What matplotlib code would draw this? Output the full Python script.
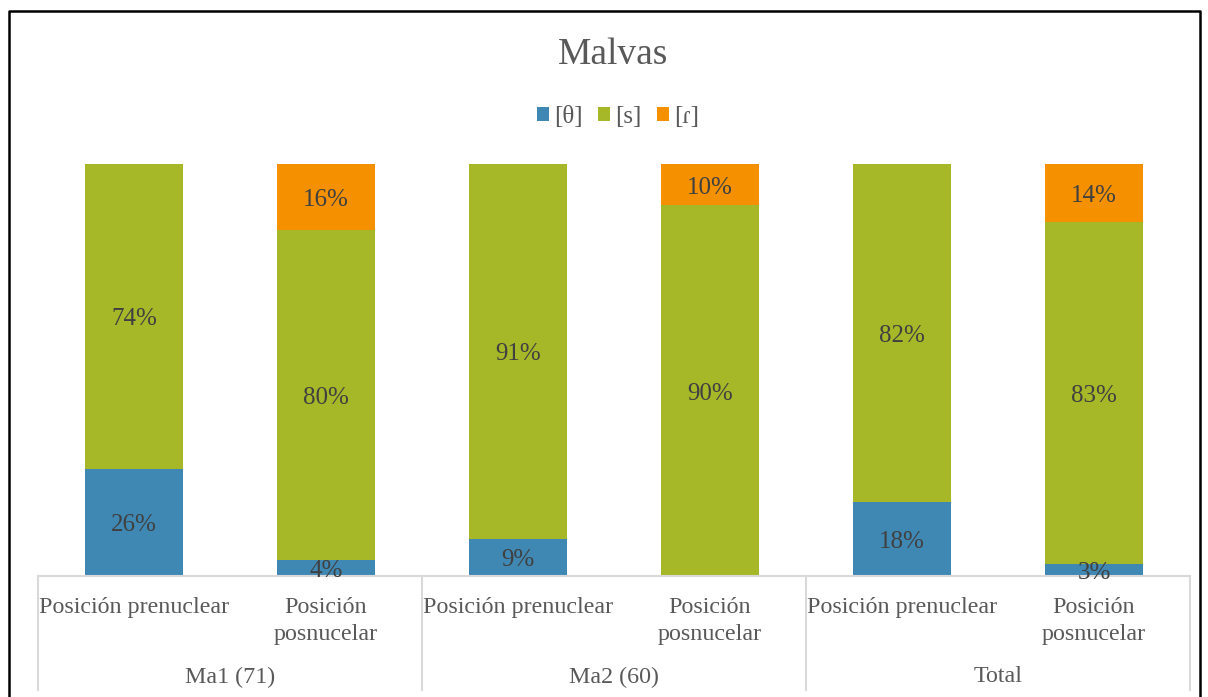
import numpy as np
import matplotlib.pyplot as plt
from matplotlib.lines import Line2D
import matplotlib.transforms as mtransforms

plt.rcParams["font.family"] = ["Liberation Serif", "DejaVu Serif"]

# Data (percent)
groups = ["Ma1 (71)", "Ma2 (60)", "Total"]
positions = ["Posición prenuclear", "Posición\nposnucelar"]
series_names = ["[θ]", "[s]", "[ɾ]"]
theta = [26, 4, 9, 0, 18, 3]
s_vals = [74, 80, 91, 90, 82, 83]
tap = [0, 16, 0, 10, 0, 14]

colors = ["#3F88B4", "#A6B828", "#F59100"]
text_col = "#595959"
label_col = "#404040"
grid_col = "#D9D9D9"

fig = plt.figure(figsize=(12.08, 6.97), dpi=100)
ax = fig.add_axes([38 / 1208, 1 - 576 / 697, (1190 - 38) / 1208, (576 - 164) / 697])

x = np.arange(len(theta))
width = 0.51
bottom = np.zeros(len(theta))
for vals, name, col in zip([theta, s_vals, tap], series_names, colors):
    vals = np.array(vals, dtype=float)
    ax.bar(x, vals, width, bottom=bottom, color=col, label=name, zorder=2)
    for xi, v, b in zip(x, vals, bottom):
        if v > 0:
            ax.annotate(f"{int(v)}%", (xi, b + v / 2), xytext=(0, -3),
                        textcoords="offset pixels", ha="center", va="center",
                        fontsize=18, color=label_col, zorder=3,
                        annotation_clip=False)
    bottom += vals

ax.set_xlim(-0.5, len(theta) - 0.5)
ax.set_ylim(0, 100)
ax.set_xticks([])
ax.set_yticks([])
for side in ["top", "left", "right"]:
    ax.spines[side].set_visible(False)
ax.spines["bottom"].set_color(grid_col)
ax.spines["bottom"].set_linewidth(1.5)

# Multi-level category axis
trans = mtransforms.blended_transform_factory(ax.transData, fig.transFigure)
for i, xi in enumerate(x):
    ax.text(xi, 1 - 597 / 697, positions[i % 2], ha="center", va="top",
            fontsize=17.3, color=text_col, transform=trans, linespacing=1.38)
for g, name in enumerate(groups):
    ax.text(2 * g + 0.5, 1 - 677 / 697, name, ha="center", va="center",
            fontsize=17.3, color=text_col, transform=trans)
for b in np.arange(-0.5, len(theta), 2):
    ax.add_line(Line2D([b, b], [1 - 576 / 697, 1 - 690 / 697], transform=trans,
                       color=grid_col, lw=1.5, clip_on=False))

# Title and legend
fig.text(613 / 1208, 1 - 55 / 697, "Malvas", ha="center", va="center",
         fontsize=27, color=text_col)
fig.legend(loc="center", bbox_to_anchor=(618 / 1208, 1 - 117 / 697), ncol=3,
           frameon=False, fontsize=18, labelcolor=text_col,
           handlelength=0.5, handleheight=0.5, handletextpad=0.2,
           columnspacing=0.6)

# Outer border (left, top, right)
fig.add_artist(Line2D([9 / 1208, 9 / 1208, 1200 / 1208, 1200 / 1208],
                      [0, 1 - 11 / 697, 1 - 11 / 697, 0],
                      transform=fig.transFigure, color="black", lw=1.8))

fig.savefig("out.png", dpi=100)
